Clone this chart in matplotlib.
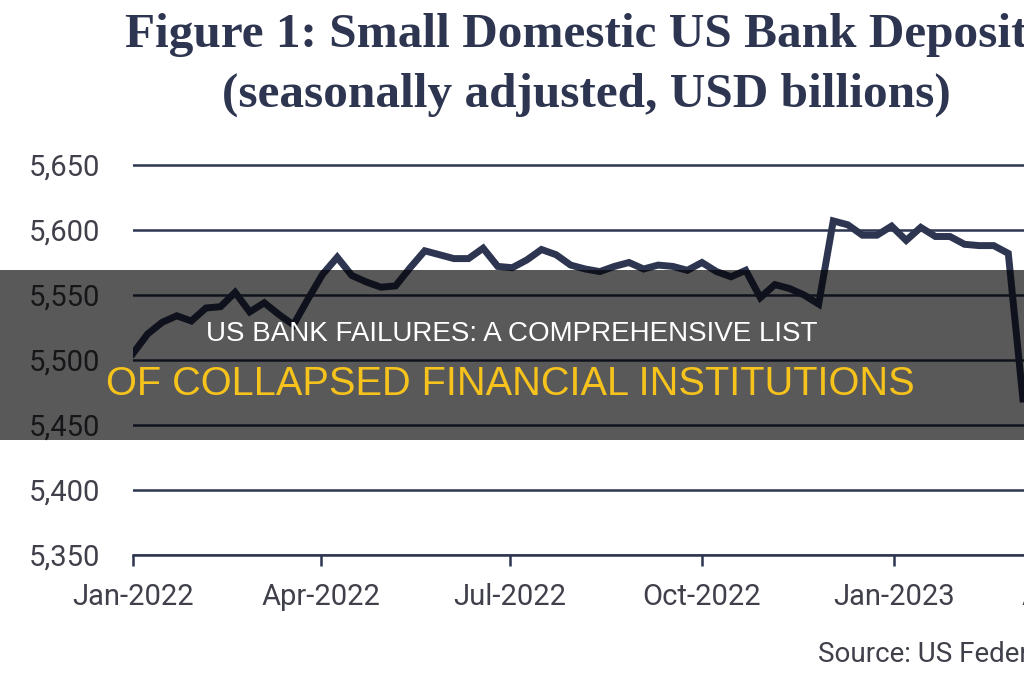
import numpy as np
import pandas as pd
import matplotlib
matplotlib.use('Agg')
import matplotlib.pyplot as plt
import matplotlib.dates as mdates
from matplotlib.patches import Rectangle
from matplotlib.ticker import FuncFormatter

# Datos: depósitos semanales de bancos pequeños (USD miles de millones)
start_date = '2022-01-01'
deposits = [5505, 5520, 5529, 5534, 5530, 5540, 5541, 5552, 5537, 5544,
            5535, 5527, 5547, 5566, 5579, 5565, 5560, 5556, 5557, 5571,
            5584, 5581, 5578, 5578, 5586, 5572, 5571, 5577, 5585, 5581,
            5573, 5570, 5568, 5572, 5575, 5570, 5573, 5572, 5569, 5575,
            5568, 5564, 5569, 5548, 5558, 5555, 5550, 5543, 5607, 5604,
            5596, 5596, 5603, 5592, 5602, 5595, 5595, 5589, 5588, 5588,
            5582, 5470]
dates = pd.date_range(start_date, periods=len(deposits), freq='7D')

yticks = [5350, 5400, 5450, 5500, 5550, 5600, 5650]
xticks = ['2022-01-01', '2022-04-01', '2022-07-01', '2022-10-01', '2023-01-01', '2023-04-01']

title1 = 'Figure 1: Small Domestic US Bank Deposits'
title2 = '(seasonally adjusted, USD billions)'
source = 'Source: US Federal Reserve'
banner1 = 'US BANK FAILURES: A COMPREHENSIVE LIST'
banner2 = 'OF COLLAPSED FINANCIAL INSTITUTIONS'

NAVY = '#2d3550'
GRIS = '#3f404a'
AMARILLO = '#f6c21c'

W, H = 1024, 680
fig = plt.figure(figsize=(10.24, 6.8), dpi=100)
fig.patch.set_facecolor('white')

# Ejes: se extienden más allá del borde derecho (gráfica recortada)
x_left, x_right = 133, 1100
y_bot, y_top = 555, 158.5
ax = fig.add_axes([x_left/W, (H-y_bot)/H, (x_right-x_left)/W, (y_bot-y_top)/H])
ax.plot(dates, deposits, '-', color=NAVY, linewidth=5, solid_joinstyle='miter', zorder=3)

ax.set_xlim(pd.Timestamp('2022-01-01'), pd.Timestamp('2023-04-10'))
ax.set_ylim(5350, 5655)
ax.set_yticks(yticks)
ax.yaxis.set_major_formatter(FuncFormatter(lambda v, p: f'{v:,.0f}'))
ax.set_xticks(pd.to_datetime(xticks))
ax.xaxis.set_major_formatter(mdates.DateFormatter('%b-%Y'))

ax.grid(axis='y', color=NAVY, linewidth=1.8)
ax.set_axisbelow(True)
for s in ['top', 'right', 'left']:
    ax.spines[s].set_visible(False)
ax.spines['bottom'].set_color(NAVY)
ax.spines['bottom'].set_linewidth(1.8)
ax.tick_params(axis='y', length=0, pad=24, labelsize=21, labelcolor=GRIS)
ax.tick_params(axis='x', length=8, width=1.8, color=NAVY, pad=12, labelsize=21, labelcolor=GRIS)
for lab in ax.get_xticklabels() + ax.get_yticklabels():
    lab.set_fontfamily('Roboto')

# Título (recortado a la derecha como en la imagen original)
fig.text(586/W, (H-35)/H, title1, ha='center', va='center', fontsize=35.5,
         fontweight='bold', family='Liberation Serif', color=NAVY)
fig.text(586/W, (H-95)/H, title2, ha='center', va='center', fontsize=35.5,
         fontweight='bold', family='Liberation Serif', color=NAVY)

# Fuente
fig.text(818/W, (H-655)/H, source, ha='left', va='center', fontsize=20,
         family='Roboto', color=GRIS)

# Banda semitransparente con el titular
fig.patches.append(Rectangle((0, (H-440)/H), 1, 170/H, transform=fig.transFigure,
                             facecolor='black', alpha=0.65, edgecolor='none', zorder=10))
fig.text(512/W, (H-334)/H, banner1, ha='center', va='center', fontsize=20,
         family='Liberation Sans', color='white', zorder=11)
fig.text(510/W, (H-384)/H, banner2, ha='center', va='center', fontsize=28.6,
         family='Liberation Sans', color=AMARILLO, zorder=11)

fig.savefig('out.png', dpi=100)
